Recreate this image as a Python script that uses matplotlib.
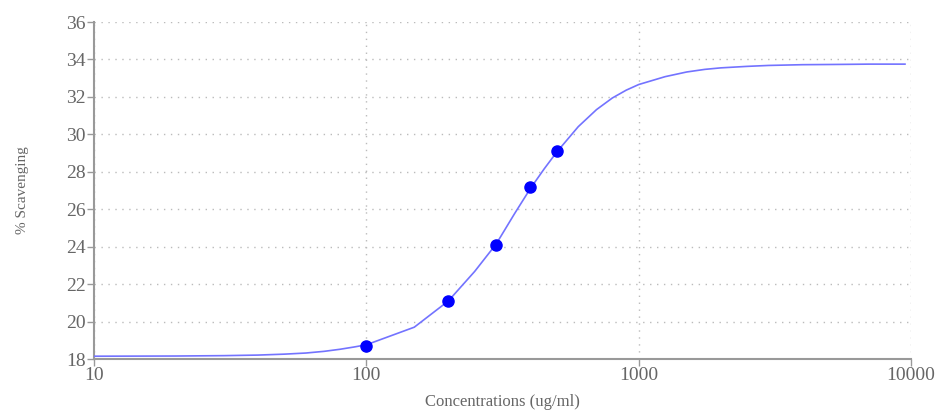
import matplotlib
matplotlib.use("Agg")
import matplotlib.pyplot as plt
from matplotlib.ticker import FixedLocator, FixedFormatter, NullLocator

# measured points
conc = [100, 200, 300, 400, 500]
scavenging = [18.7, 21.1, 24.1, 27.2, 29.1]

# fitted curve
curve_x = [10, 20, 30, 40, 50, 60, 70, 80, 90, 100, 150, 200, 250, 300, 350,
           400, 450, 500, 600, 700, 800, 900, 1000, 1250, 1500, 1750, 2000, 2500, 3000,
           4000, 5000, 6000, 7000, 8000, 9500]
curve_y = [18.15, 18.16, 18.18, 18.21, 18.26, 18.32, 18.41, 18.52, 18.64, 18.76,
           19.70, 21.10, 22.68, 24.15, 25.76, 27.10, 28.16, 29.05, 30.41, 31.32,
           31.94, 32.36, 32.66, 33.08, 33.33, 33.47, 33.55, 33.63, 33.68, 33.72,
           33.73, 33.74, 33.75, 33.75, 33.75]

x_ticks = [10, 100, 1000, 10000]
x_labels = ["10", "100", "1000", "10000"]
y_ticks = [18, 20, 22, 24, 26, 28, 30, 32, 34, 36]

grey = "#666666"
plt.rcParams['font.family'] = ['Liberation Serif', 'DejaVu Serif']

fig = plt.figure(figsize=(9.37, 4.12), dpi=100)
ax = fig.add_axes([0.1003, 0.1286, 0.872, 0.818])

ax.plot(curve_x, curve_y, color="#7373ff", linewidth=1.2, zorder=3)
ax.plot(conc, scavenging, linestyle="none", marker="o", markersize=8,
        color="#0000ff", zorder=4)

ax.set_xscale("log")
ax.set_xlim(10, 10000)
ax.set_ylim(18, 36)
ax.xaxis.set_major_locator(FixedLocator(x_ticks))
ax.xaxis.set_major_formatter(FixedFormatter(x_labels))
ax.xaxis.set_minor_locator(NullLocator())
ax.set_yticks(y_ticks)

ax.grid(True, which="major", linestyle=(0, (1, 4)), color="#bbbbbb", linewidth=1)
for s in ["top", "right"]:
    ax.spines[s].set_visible(False)
for s in ["left", "bottom"]:
    ax.spines[s].set_color("#999999")
    ax.spines[s].set_linewidth(1.5)

ax.tick_params(axis="both", colors="#999999", labelcolor=grey, labelsize=14,
               length=5, width=1)
ax.tick_params(axis="x", pad=1)
ax.tick_params(axis="y", pad=1)

ax.set_xlabel("Concentrations (ug/ml)", color=grey, fontsize=12)
ax.set_ylabel("% Scavenging", color=grey, fontsize=11)
ax.xaxis.set_label_coords(0.5, -0.105)
ax.yaxis.set_label_coords(-0.08, 0.5)

fig.savefig("out.png", dpi=100)
